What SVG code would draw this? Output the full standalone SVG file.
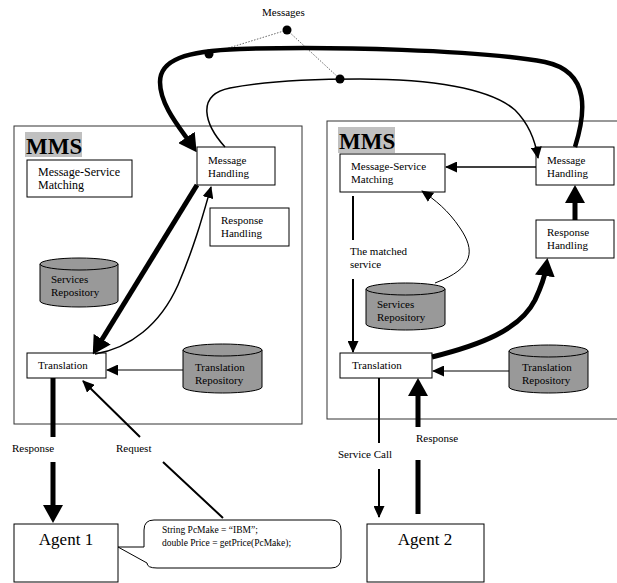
<svg xmlns="http://www.w3.org/2000/svg" width="617" height="583" viewBox="0 0 617 583">
<defs>
<marker id="a" markerUnits="userSpaceOnUse" viewBox="0 0 12 11" markerWidth="12" markerHeight="11" refX="11" refY="5.5" orient="auto"><path d="M0,0 L12,5.5 L0,11 z" fill="#000"/></marker>
<marker id="b" markerUnits="userSpaceOnUse" viewBox="0 0 18 20" markerWidth="18" markerHeight="20" refX="8" refY="10" orient="auto"><path d="M0,0 L18,10 L0,20 z" fill="#000"/></marker>
</defs>
<style>
text{font-family:"Liberation Serif","Times New Roman",serif;font-size:11px;fill:#000}
.box{fill:#fff;stroke:#000;stroke-width:1}
.mms{fill:none;stroke:#333;stroke-width:1}
.lbl{font-weight:bold;font-size:23px}
.agent{font-size:17px}
.code{font-size:9.5px}
.big{font-size:12px}
.db{fill:#999;stroke:#000;stroke-width:1}
.c{fill:none;stroke:#000}
</style>
<rect width="617" height="583" fill="#fff"/>

<g id="mms-left">
<rect class="mms" x="14" y="126" width="288" height="298"/>
<rect x="25" y="132" width="57" height="25" fill="#c0c0c0"/>
<text class="lbl" x="26" y="154">MMS</text>
</g>
<g id="mms-right">
<rect class="mms" x="327" y="121" width="300" height="298"/>
<rect x="338" y="127" width="57" height="26" fill="#c0c0c0"/>
<text class="lbl" x="339" y="149">MMS</text>
</g>

<g id="msm-left"><rect class="box" x="27" y="160" width="105" height="37"/><text class="big" x="38" y="176">Message-Service</text><text class="big" x="38" y="189">Matching</text></g>
<g id="mh-left"><rect class="box" x="197" y="147" width="78" height="38"/><text x="208" y="164">Message</text><text x="208" y="177">Handling</text></g>
<g id="rh-left"><rect class="box" x="210" y="208" width="79" height="38"/><text x="221" y="224">Response</text><text x="221" y="237">Handling</text></g>
<g id="sr-left"><path class="db" d="M40,264 L40,301 A39,6 0 0 0 118,301 L118,264"/><ellipse class="db" cx="79" cy="264" rx="39" ry="6"/><text x="51" y="283">Services</text><text x="51" y="296">Repository</text></g>
<g id="tr-left"><rect class="box" x="27" y="353" width="79" height="25"/><text x="38" y="369">Translation</text></g>
<g id="trr-left"><path class="db" d="M183,350 L183,387 A39.5,6 0 0 0 262,387 L262,350"/><ellipse class="db" cx="222.5" cy="350" rx="39.5" ry="6"/><text x="195" y="371">Translation</text><text x="195" y="384">Repository</text></g>

<g id="msm-right"><rect class="box" x="340" y="154" width="105" height="38"/><text x="351" y="170">Message-Service</text><text x="351" y="183">Matching</text></g>
<g id="mh-right"><rect class="box" x="536" y="147" width="78" height="38"/><text x="547" y="164">Message</text><text x="547" y="177">Handling</text></g>
<g id="rh-right"><rect class="box" x="536" y="220" width="78" height="38"/><text x="547" y="236">Response</text><text x="547" y="249">Handling</text></g>
<g id="sr-right"><path class="db" d="M366,289 L366,324 A39.5,6 0 0 0 445,324 L445,289"/><ellipse class="db" cx="405.5" cy="289" rx="39.5" ry="6"/><text x="377" y="308">Services</text><text x="377" y="321">Repository</text></g>
<g id="tr-right"><rect class="box" x="340" y="353" width="92" height="25"/><text x="352" y="369">Translation</text></g>
<g id="trr-right"><path class="db" d="M509,351 L509,387 A39.5,6 0 0 0 588,387 L588,351"/><ellipse class="db" cx="548.5" cy="351" rx="39.5" ry="6"/><text x="522" y="371">Translation</text><text x="522" y="384">Repository</text></g>

<g id="agent1"><rect class="box" x="14" y="524" width="104" height="58"/><text class="agent" x="66" y="545" text-anchor="middle">Agent 1</text></g>
<g id="agent2"><rect class="box" x="367" y="524" width="117" height="58"/><text class="agent" x="425" y="545" text-anchor="middle">Agent 2</text></g>

<g id="callout"><path class="box" d="M154,520 L331,520 Q341,520 341,530 L341,558 Q341,568 331,568 L157,568 Q147,568 147,563 L118,547 L144,547 L144,530 Q144,520 154,520 Z"/><text class="code" x="162" y="533">String PcMake = “IBM”;</text><text class="code" x="162" y="546">double Price = getPrice(PcMake);</text></g>

<g id="messages">
<text x="262" y="16">Messages</text>
<path d="M287,30 L209,54 M287,30 L340,79" stroke="#444" stroke-width="0.8" stroke-dasharray="1.5,1.5" fill="none"/>
</g>

<g id="connectors">
<path class="c" stroke-width="4.5" d="M575,147 C585,115 592,72 545,62 C480,50 330,46 240,49 C185,51 160,60 160,82 C160,105 180,128 191,144" marker-end="url(#b)"/>
<path class="c" stroke-width="1.5" d="M225,147 C205,125 195,95 230,88 C270,80 320,79 360,79 C430,79 490,88 515,110 C530,125 536,145 538,158" marker-end="url(#a)"/>
<circle cx="287" cy="30" r="4.5"/>
<circle cx="209" cy="54" r="4.5"/>
<circle cx="340" cy="79" r="4.5"/>

<path class="c" stroke-width="5" d="M197,185 L98,346" marker-end="url(#b)"/>
<path class="c" stroke-width="1.5" d="M95,354 C130,348 160,325 178,285 C195,245 203,215 211,187" marker-end="url(#a)"/>
<path class="c" stroke-width="1" d="M183,370 L107,370" marker-end="url(#a)"/>
<path class="c" stroke-width="5" d="M53,378 L53,437 M53,462 L53,513" marker-end="url(#b)"/>
<text x="12" y="452">Response</text>
<path class="c" stroke-width="2" d="M223,518 L163,462 M140,437 L83,381" marker-end="url(#a)"/>
<text x="116" y="452">Request</text>

<path class="c" stroke-width="1.5" d="M536,167 L446,167" marker-end="url(#a)"/>
<path class="c" stroke-width="5" d="M575,220 L575,195" marker-end="url(#b)"/>
<path class="c" stroke-width="2" d="M353,196 L353,240 M353,279 L353,352" marker-end="url(#a)"/>
<text x="350" y="255">The matched</text>
<text x="350" y="268">service</text>
<path class="c" stroke-width="1" d="M435,283 C475,268 475,250 460,228 C448,210 435,200 422,191" marker-end="url(#a)"/>
<path class="c" stroke-width="5" d="M432,357 C480,345 520,330 535,300 C542,285 545,275 546,268" marker-end="url(#b)"/>
<path class="c" stroke-width="1" d="M509,371 L433,371" marker-end="url(#a)"/>
<path class="c" stroke-width="2" d="M379,378 L379,443 M379,469 L379,517" marker-end="url(#a)"/>
<text x="338" y="458">Service Call</text>
<path class="c" stroke-width="5" d="M418,514 L418,460 M418,427 L418,388" marker-end="url(#b)"/>
<text x="416" y="442">Response</text>
</g>
</svg>
